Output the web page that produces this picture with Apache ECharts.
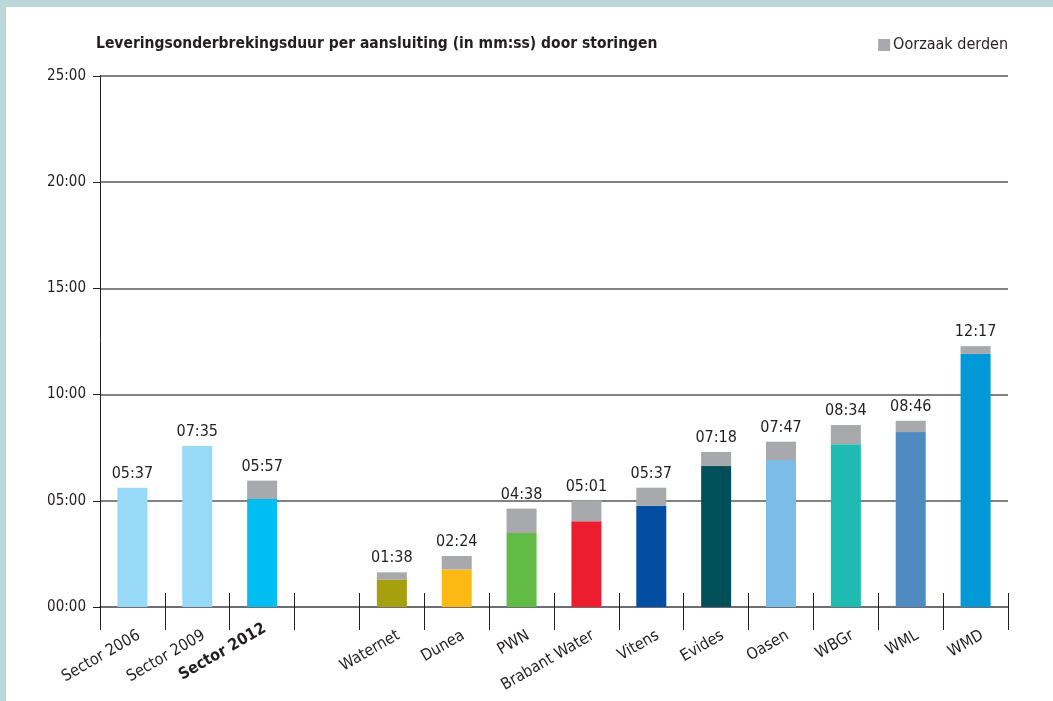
<!DOCTYPE html>
<html>
<head>
<meta charset="utf-8">
<script src="https://cdn.jsdelivr.net/npm/echarts@6/dist/echarts.min.js"></script>
<style>
    html, body { margin: 0; padding: 0; background: #bcd7da; }
    #frame { position: absolute; left: 6px; top: 7px; width: 1100px; height: 720px; background: #fff; }
    #main { position: absolute; left: 0; top: 0; width: 1053px; height: 701px; }
</style>
</head>
<body>
<div id="frame"></div>
<div id="main"></div>
<script>
// categorieen (lege plek tussen sector en bedrijven)
var categories = ['Sector 2006', 'Sector 2009', 'Sector 2012', '', 'Waternet', 'Dunea', 'PWN', 'Brabant Water',
    'Vitens', 'Evides', 'Oasen', 'WBGr', 'WML', 'WMD'];
// eigen oorzaak, in seconden
var eigen = [337, 455, 305, '-', 77, 106, 209, 242, 286, 398, 415, 460, 494, 715];
// oorzaak derden, in seconden
var derden = [0, 0, 52, '-', 21, 38, 69, 59, 51, 40, 52, 54, 32, 22];
// totalen boven de staven
var totalLabels = ['05:37', '07:35', '05:57', '', '01:38', '02:24', '04:38', '05:01', '05:37', '07:18', '07:47', '08:34', '08:46', '12:17'];
var barColors = ['#97d9f6', '#97d9f6', '#00bdf2', '#fff', '#a6a00e', '#fdb913', '#62bb46', '#ed1c2e',
    '#034ea2', '#004f59', '#7bbde8', '#1fbbb0', '#4f8bc1', '#0099d8'];

var FONT = '"DejaVu Sans Condensed", "Liberation Sans Narrow", sans-serif';

function mmss(sec) {
    var m = Math.floor(sec / 60);
    var s = sec % 60;
    return (m < 10 ? '0' : '') + m + ':' + (s < 10 ? '0' : '') + s;
}

var xData = categories.map(function (c) {
    if (c === 'Sector 2012') {
        return { value: c, textStyle: { fontWeight: 'bold' } };
    }
    return c;
});

var myChart = echarts.init(document.getElementById('main'));
myChart.setOption({
    backgroundColor: 'transparent',
    animation: false,
    textStyle: { fontFamily: FONT },
    title: {
        text: 'Leveringsonderbrekingsduur per aansluiting (in mm:ss) door storingen',
        left: 96,
        top: 36,
        padding: 0,
        textStyle: { fontFamily: FONT, fontSize: 15.5, fontWeight: 'bold', color: '#231f20' }
    },
    legend: {
        data: ['Oorzaak derden'],
        right: 45,
        top: 37,
        padding: 0,
        icon: 'rect',
        itemWidth: 12,
        itemHeight: 12,
        itemGap: 4,
        textStyle: { fontFamily: FONT, fontSize: 16, color: '#231f20', padding: [0, 0, 0, -2] }
    },
    grid: { left: 100, right: 45, top: 76, bottom: 94 },
    xAxis: [
        {
            type: 'category',
            data: xData,
            axisLine: { lineStyle: { color: '#6d6e71', width: 2 } },
            axisTick: { show: true, interval: 0, length: 23, lineStyle: { color: '#231f20', width: 1 } },
            axisLabel: {
                rotate: 30,
                interval: 0,
                margin: 22,
                verticalAlign: 'top',
                padding: [0, -3, 0, 0],
                fontFamily: FONT,
                fontSize: 16,
                color: '#231f20'
            }
        },
        {
            // korte streepjes boven de as
            type: 'category',
            position: 'bottom',
            data: categories,
            axisLine: { show: false },
            axisTick: { show: true, interval: 0, inside: true, length: 14, lineStyle: { color: '#231f20', width: 1 } },
            axisLabel: { show: false }
        }
    ],
    yAxis: {
        type: 'value',
        min: 0,
        max: 1500,
        interval: 300,
        axisLine: { show: true, lineStyle: { color: '#231f20', width: 1 } },
        axisTick: { show: true, length: 7, lineStyle: { color: '#231f20' } },
        splitLine: { lineStyle: { color: '#58595b', width: 1.5 } },
        axisLabel: {
            margin: 14,
            fontFamily: FONT,
            fontSize: 15,
            color: '#231f20',
            formatter: function (v) { return mmss(v); }
        }
    },
    series: [
        {
            name: 'Eigen',
            type: 'bar',
            stack: 'totaal',
            barWidth: 30,
            data: eigen.map(function (v, i) {
                return { value: v, itemStyle: { color: barColors[i] } };
            })
        },
        {
            name: 'Oorzaak derden',
            type: 'bar',
            stack: 'totaal',
            barWidth: 30,
            itemStyle: { color: '#a7a9ac' },
            label: {
                show: true,
                position: 'top',
                distance: 6,
                fontFamily: FONT,
                fontSize: 16,
                color: '#231f20',
                formatter: function (p) { return totalLabels[p.dataIndex]; }
            },
            data: derden
        }
    ]
});
window.onresize = function () {
    myChart.resize();
}
</script>
</body>
</html>
